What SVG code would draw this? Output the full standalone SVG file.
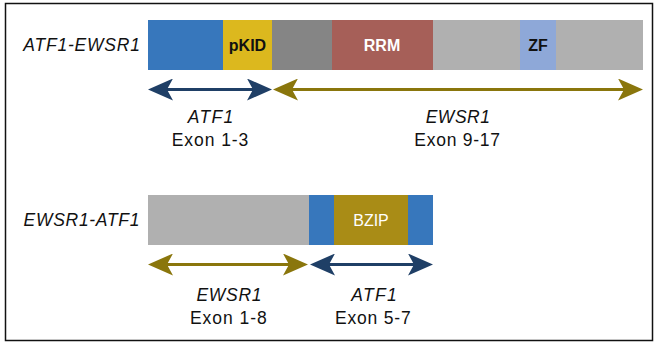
<svg xmlns="http://www.w3.org/2000/svg" width="656" height="343" viewBox="0 0 656 343">
<style>
text{font-family:"Liberation Sans",Arial,sans-serif}
.lab{font-size:17.5px;fill:#111;text-anchor:middle}
.it{font-style:italic}
.dom{font-size:16px;font-weight:bold;text-anchor:middle}
.sh{stroke-width:3;fill:none}
</style>
<defs>
<marker id="hb" viewBox="0 0 25 22" markerWidth="25" markerHeight="22" refX="6" refY="11" orient="auto-start-reverse" markerUnits="userSpaceOnUse"><path d="M0,0 L25,11 L0,22 L6,11 Z" fill="#1f3f66"/></marker>
<marker id="ho" viewBox="0 0 25 22" markerWidth="25" markerHeight="22" refX="6" refY="11" orient="auto-start-reverse" markerUnits="userSpaceOnUse"><path d="M0,0 L25,11 L0,22 L6,11 Z" fill="#8a760c"/></marker>
</defs>
<rect x="0" y="0" width="656" height="343" fill="#fff"/>
<rect x="5.5" y="3.5" width="647" height="337" fill="#fff" stroke="#111" stroke-width="1.5"/>

<g id="atf1-ewsr1">
<text class="lab it" x="140" y="50.5" style="text-anchor:end" textLength="116.7" lengthAdjust="spacing">ATF1-EWSR1</text>
<rect x="148" y="20" width="75" height="50" fill="#3777bc"/>
<rect x="223" y="20" width="49" height="50" fill="#dcb81e"/>
<rect x="272" y="20" width="60" height="50" fill="#858585"/>
<rect x="332" y="20" width="101" height="50" fill="#a65f58"/>
<rect x="433" y="20" width="87" height="50" fill="#b0b0b0"/>
<rect x="520" y="20" width="36" height="50" fill="#8ea8d8"/>
<rect x="556" y="20" width="87" height="50" fill="#b0b0b0"/>
<text class="dom" x="247.5" y="51" fill="#111">pKID</text>
<text class="dom" x="382" y="51" fill="#fff">RRM</text>
<text class="dom" x="538" y="51" fill="#111">ZF</text>
</g>

<g id="ewsr1-atf1">
<text class="lab it" x="139.5" y="225.5" style="text-anchor:end" textLength="116" lengthAdjust="spacing">EWSR1-ATF1</text>
<rect x="148" y="195" width="161" height="50" fill="#b0b0b0"/>
<rect x="309" y="195" width="25" height="50" fill="#3777bc"/>
<rect x="334" y="195" width="74" height="50" fill="#a98c16"/>
<rect x="408" y="195" width="25" height="50" fill="#3777bc"/>
<text x="371" y="226" font-size="16" fill="#fff" text-anchor="middle">BZIP</text>
</g>

<g id="connectors">
<line class="sh" x1="167" y1="89.5" x2="253" y2="89.5" stroke="#1f3f66" marker-start="url(#hb)" marker-end="url(#hb)"/>
<line class="sh" x1="292" y1="89.5" x2="624" y2="89.5" stroke="#8a760c" marker-start="url(#ho)" marker-end="url(#ho)"/>
<line class="sh" x1="167" y1="264.5" x2="289" y2="264.5" stroke="#8a760c" marker-start="url(#ho)" marker-end="url(#ho)"/>
<line class="sh" x1="329" y1="264.5" x2="414" y2="264.5" stroke="#1f3f66" marker-start="url(#hb)" marker-end="url(#hb)"/>
</g>

<g id="labels">
<text class="lab it" x="210.5" y="122.5" textLength="45.7" lengthAdjust="spacing">ATF1</text>
<text class="lab" x="210" y="146" textLength="76.7" lengthAdjust="spacing">Exon 1-3</text>
<text class="lab it" x="457.8" y="122.5" textLength="64.3" lengthAdjust="spacing">EWSR1</text>
<text class="lab" x="457.2" y="146" textLength="85.7" lengthAdjust="spacing">Exon 9-17</text>
<text class="lab it" x="229" y="301" textLength="65" lengthAdjust="spacing">EWSR1</text>
<text class="lab" x="228.3" y="324" textLength="76.7" lengthAdjust="spacing">Exon 1-8</text>
<text class="lab it" x="374" y="301" textLength="45.7" lengthAdjust="spacing">ATF1</text>
<text class="lab" x="372.8" y="324" textLength="75.7" lengthAdjust="spacing">Exon 5-7</text>
</g>
</svg>
